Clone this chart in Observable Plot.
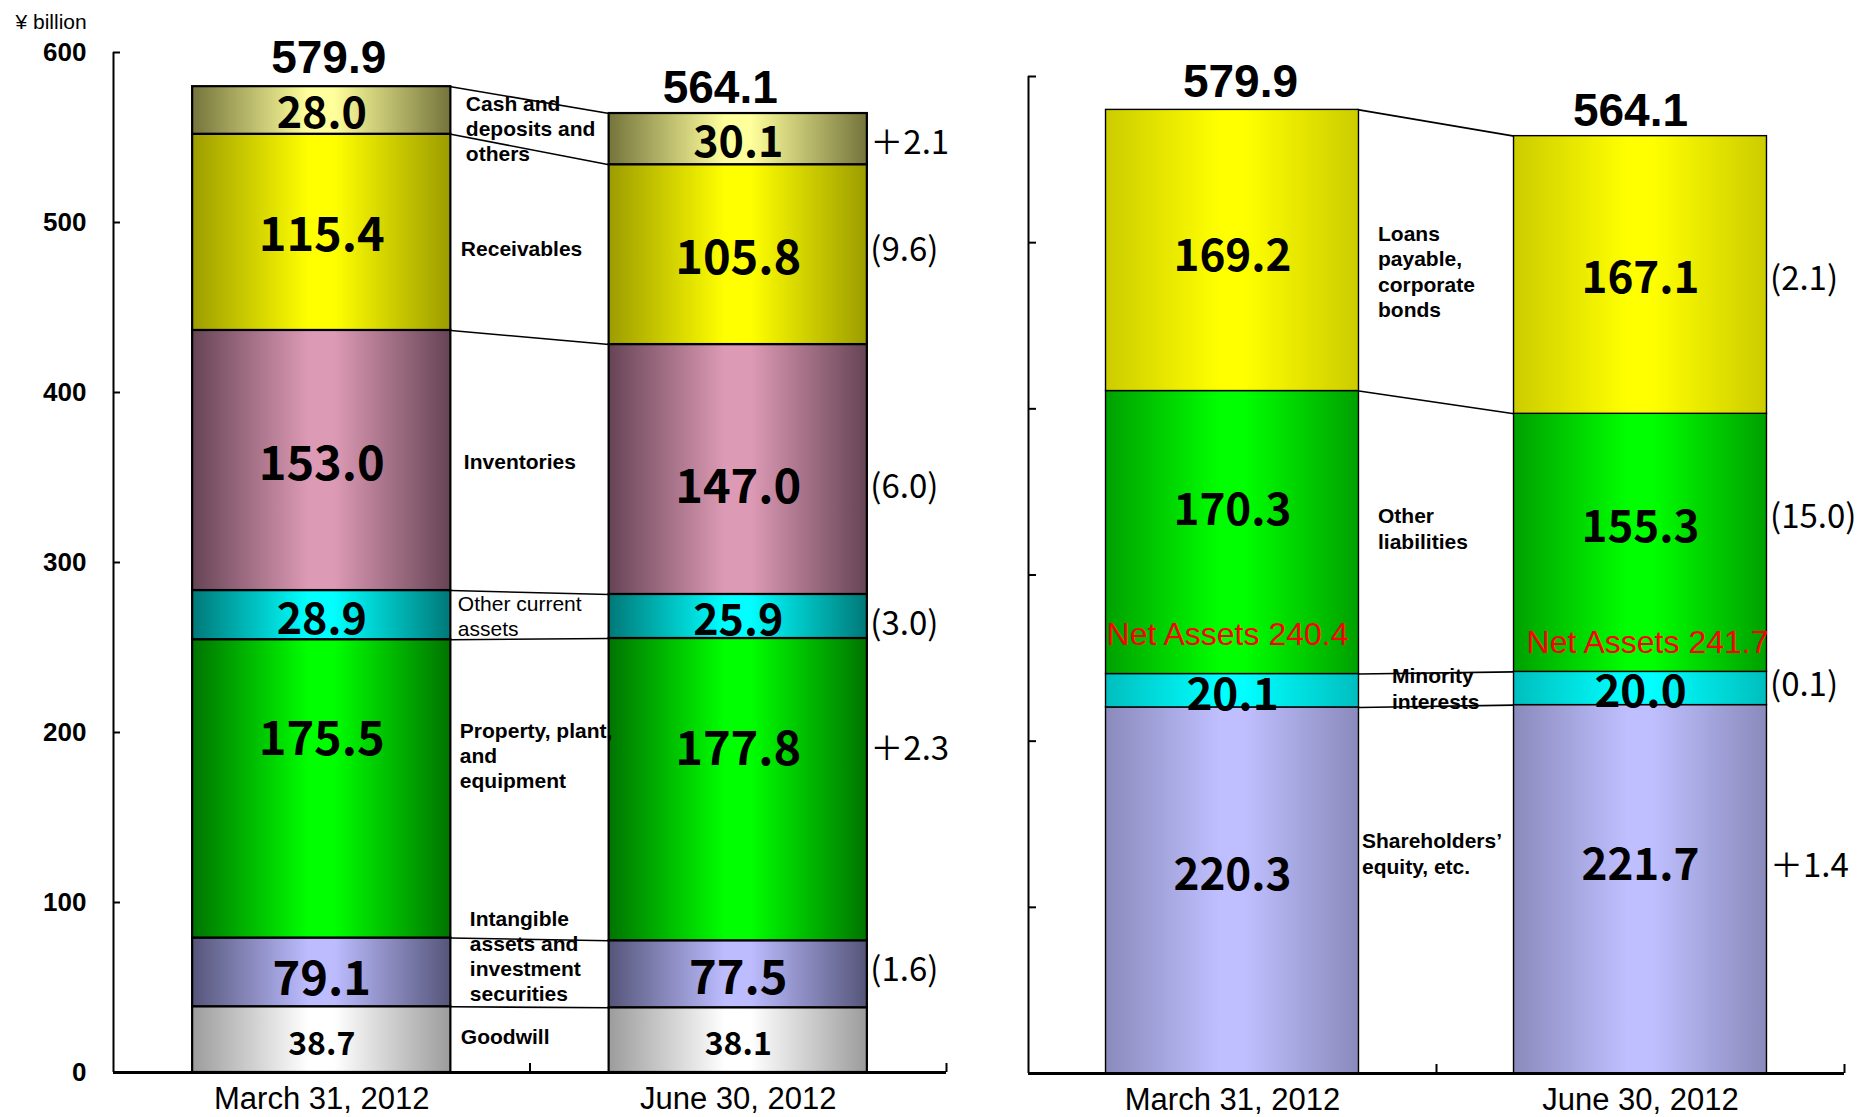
<!DOCTYPE html>
<html><head><meta charset="utf-8">
<script src="https://cdn.jsdelivr.net/npm/d3@7"></script>
<script src="https://cdn.jsdelivr.net/npm/@observablehq/plot@0.6"></script>
<style>
body{margin:0;background:#fff;}
#wrap{position:relative;width:1870px;height:1117px;overflow:hidden;background:#fff;}
#left{position:absolute;left:0;top:0;}
#right{position:absolute;left:1000px;top:0;}
</style></head><body><div id="wrap"><div id="left"></div><div id="right"></div></div>
<script>
// ---------- data ----------
const dates = ["March 31, 2012", "June 30, 2012"];
const totals = [579.9, 564.1];
const yTicks = [0, 100, 200, 300, 400, 500, 600];
const unitLabel = "¥ billion";

// assets (bottom to top); goodwill is part of intangible assets and investment securities
const assetItems = ["Goodwill", "Intangible\nassets and\ninvestment\nsecurities", "Property, plant,\nand\nequipment", "Other current\nassets", "Inventories", "Receivables", "Cash and\ndeposits and\nothers"];
const assetsMar = [38.7, 79.1, 175.5, 28.9, 153.0, 115.4, 28.0];
const assetsJun = [38.1, 77.5, 177.8, 25.9, 147.0, 105.8, 30.1];

// liabilities and net assets (bottom to top)
const liabItems = ["Shareholders’\nequity, etc.", "Minority\ninterests", "Other\nliabilities", "Loans\npayable,\ncorporate\nbonds"];
const liabMar = [220.3, 20.1, 170.3, 169.2];
const liabJun = [221.7, 20.0, 155.3, 167.1];
const netAssets = [240.4, 241.7];

// ---------- styles ----------
const pad = 0.19;
const NUM_FONT = "'Noto Sans CJK JP', 'Liberation Sans', sans-serif";
const SANS = "'Liberation Sans', Arial, sans-serif";
const gradients = {
  "g-goodwill": ["#9c9c9c", "#ffffff"],
  "g-intang": ["#55557a", "#bcbcff"],
  "g-ppe": ["#007400", "#00ff00"],
  "g-other": ["#007878", "#00ffff"],
  "g-inv": ["#664455", "#dd9ab5"],
  "g-recv": ["#9c9c00", "#ffff00"],
  "g-cash": ["#74743c", "#ffff9c"],
  "r-equity": ["#8a8abc", "#bfbfff"],
  "r-minor": ["#00bebe", "#00ffff"],
  "r-other": ["#00a000", "#00ff00"],
  "r-loans": ["#cccc00", "#ffff00"]
};
const assetGrad = ["g-goodwill", "g-intang", "g-ppe", "g-other", "g-inv", "g-recv", "g-cash"];
const liabGrad = ["r-equity", "r-minor", "r-other", "r-loans"];

const assetNumSize = [32, 47, 47, 43, 47, 47, 43];
const assetNumShift = [[3, 3], [6, 3], [-51, -42], [3, 3], [2, 16], [2, 2], [2, 2]];
const assetChgShift = [0, -9, 0, 3, 0, -8, 0];
const assetCatDx = [10, 19, 9, 7, 13, 10, 15];
const assetCatDy = [-4, -18, -34, 0, -4, 4, 3];
const assetCatWeight = ["bold", "bold", "bold", "normal", "bold", "bold", "bold"];

const liabNumSize = [44, 44, 44, 44];
const liabNumShift = [[-17, -25], [3, 2], [-24, -17], [4, 2]];
const liabChgShift = [0, -7, -10, 0];
const liabCatDx = [3, 33, 19, 19];
const liabCatDy = [-37, -2, -10, 8];

// ---------- helpers ----------
function stackAssets(vals) {
  const out = []; let base = 0;
  vals.forEach((v, i) => {
    if (i === 0) out.push([0, v]);
    else if (i === 1) { out.push([vals[0], v]); base = v; }
    else { out.push([base, base + v]); base += v; }
  });
  return out;
}
function stackPlain(vals) { let b = 0; return vals.map(v => [b, b += v]); }
function fmtChange(m, j) {
  const d = j - m;
  return d >= 0 ? "＋" + d.toFixed(1) : "(" + Math.abs(d).toFixed(1) + ")";
}

function buildPanel(series, stackFn, grads, items, opt) {
  const stacks = series.map(stackFn);
  const rows = [];
  series.forEach((vals, di) => vals.forEach((v, i) => rows.push({di, i, v, y1: stacks[di][i][0], y2: stacks[di][i][1], grad: grads[i]})));
  const mid = (di, i) => (stacks[di][i][0] + stacks[di][i][1]) / 2;
  const marks = [];
  // bars
  marks.push(Plot.rect(rows, {
    x1: d => d.di + pad, x2: d => d.di + 1 - pad, y1: "y1", y2: "y2",
    fill: d => `url(#${d.grad})`, stroke: "black", strokeWidth: opt.barStroke
  }));
  // connectors between the two bars
  marks.push(Plot.link(items.map((_, i) => i), {
    x1: () => 1 - pad, x2: () => 1 + pad,
    y1: i => stacks[0][i][1], y2: i => stacks[1][i][1],
    stroke: "black", strokeWidth: 1.6
  }));
  // value labels inside bars
  rows.forEach(r => marks.push(Plot.text([r], {
    x: d => d.di + 0.5, y: d => (d.y1 + d.y2) / 2, text: d => d.v.toFixed(1),
    dy: opt.numShift[r.i][r.di] + 2, fontSize: opt.numSize[r.i], fontWeight: "bold",
    fontFamily: NUM_FONT, fill: "black", lineAnchor: "middle"
  })));
  // item names between bars
  items.forEach((name, i) => marks.push(Plot.text([name], {
    x: () => 1 - pad, y: () => (mid(0, i) + mid(1, i)) / 2, text: d => d,
    dx: opt.catDx[i], dy: opt.catDy[i], textAnchor: "start", lineAnchor: "middle",
    fontSize: 21, lineHeight: opt.lineHeight, fontWeight: opt.catWeight ? opt.catWeight[i] : "bold",
    fontFamily: SANS, fill: "black"
  })));
  // change labels to the right of the second bar
  items.forEach((_, i) => {
    if (opt.skipChange.includes(i)) return;
    marks.push(Plot.text([i], {
      x: () => 2 - pad, y: () => mid(1, i), text: () => fmtChange(series[0][i], series[1][i]),
      dx: 3, dy: opt.numShift[i][1] + 2 + opt.chgShift[i], textAnchor: "start", lineAnchor: "middle",
      fontSize: 33, fontFamily: NUM_FONT, fill: "black"
    }));
  });
  // totals on top
  totals.forEach((t, di) => marks.push(Plot.text([t], {
    x: () => di + 0.5, y: d => d, text: d => d.toFixed(1),
    dx: opt.totalDx[di], dy: [-28, -25][di], fontSize: 46, fontWeight: "bold",
    fontFamily: SANS, fill: "black", lineAnchor: "middle"
  })));
  return {marks, mid};
}

// ---------- left panel: assets ----------
const L = buildPanel([assetsMar, assetsJun], stackAssets, assetGrad, assetItems, {
  barStroke: 2.2, numSize: assetNumSize, numShift: assetNumShift, chgShift: assetChgShift,
  catDx: assetCatDx, catDy: assetCatDy, catWeight: assetCatWeight, lineHeight: 1.2,
  skipChange: [0], totalDx: [7, -18]
});
const axisMarks = (labels, tickLen, labelPad) => [
  Plot.ruleX([0], {y1: 0, y2: d3.max(yTicks), strokeWidth: 2}),
  Plot.axisY(yTicks, {tickSize: tickLen, dx: tickLen, tickPadding: labelPad, label: null,
    tickFormat: labels ? (d => String(d)) : (() => ""), fontSize: 26, fontWeight: "bold", fontFamily: SANS, strokeWidth: 2}),
  Plot.axisX([1, 2], {tickSize: 9, dy: -9, tickFormat: () => "", label: null, strokeWidth: 2}),
  Plot.axisX([0.5, 1.5], {tickSize: 0, tickPadding: 14, label: null,
    tickFormat: d => dates[Math.round(d - 0.5)], fontSize: 31, fontFamily: SANS}),
  Plot.ruleY([0], {strokeWidth: 3})
];

const leftSvg = Plot.plot({
  width: 1000, height: 1117, marginLeft: 113, marginRight: 54, marginTop: 52, marginBottom: 45,
  x: {domain: [0, 2]}, y: {domain: [0, 600]}, color: {type: "identity"},
  style: {fontFamily: SANS, color: "black", background: "white", overflow: "visible"},
  marks: [
    ...L.marks,
    ...axisMarks(true, 7, 27),
    Plot.text([unitLabel], {frameAnchor: "top-left", text: d => d, dx: -98, dy: -30,
      textAnchor: "start", lineAnchor: "middle", fontSize: 21, fontFamily: SANS, fill: "black"})
  ]
});

// ---------- right panel: liabilities & net assets ----------
const R = buildPanel([liabMar, liabJun], stackPlain, liabGrad, liabItems, {
  barStroke: 1.4, numSize: liabNumSize, numShift: liabNumShift, chgShift: liabChgShift,
  catDx: liabCatDx, catDy: liabCatDy, lineHeight: 1.22,
  skipChange: [], totalDx: [8, -10]
});
const netShift = [[-5, -39], [7, -29]];
const rightSvg = Plot.plot({
  width: 870, height: 1117, marginLeft: 28, marginRight: 26, marginTop: 76, marginBottom: 44,
  x: {domain: [0, 2]}, y: {domain: [0, 600]}, color: {type: "identity"},
  style: {fontFamily: SANS, color: "black", background: "white", overflow: "visible"},
  marks: [
    ...R.marks,
    ...netAssets.map((n, di) => Plot.text([n], {
      x: () => di + 0.5, y: d => d, text: d => "Net Assets " + d.toFixed(1),
      dx: netShift[di][0], dy: netShift[di][1], fill: "#ff0000", fontSize: 32, fontFamily: SANS, lineAnchor: "middle"
    })),
    ...axisMarks(false, 8, 3)
  ]
});

// ---------- gradients ----------
function addGradients(svg) {
  const defs = d3.select(svg).insert("defs", ":first-child");
  Object.entries(gradients).forEach(([id, [edge, center]]) => {
    const g = defs.append("linearGradient").attr("id", id).attr("x1", 0).attr("x2", 1).attr("y1", 0).attr("y2", 0);
    [[0, edge], [0.45, center], [0.55, center], [1, edge]].forEach(([o, c]) =>
      g.append("stop").attr("offset", o).attr("stop-color", c));
  });
}
addGradients(leftSvg);
addGradients(rightSvg);
document.getElementById("left").appendChild(leftSvg);
document.getElementById("right").appendChild(rightSvg);
</script></body></html>
